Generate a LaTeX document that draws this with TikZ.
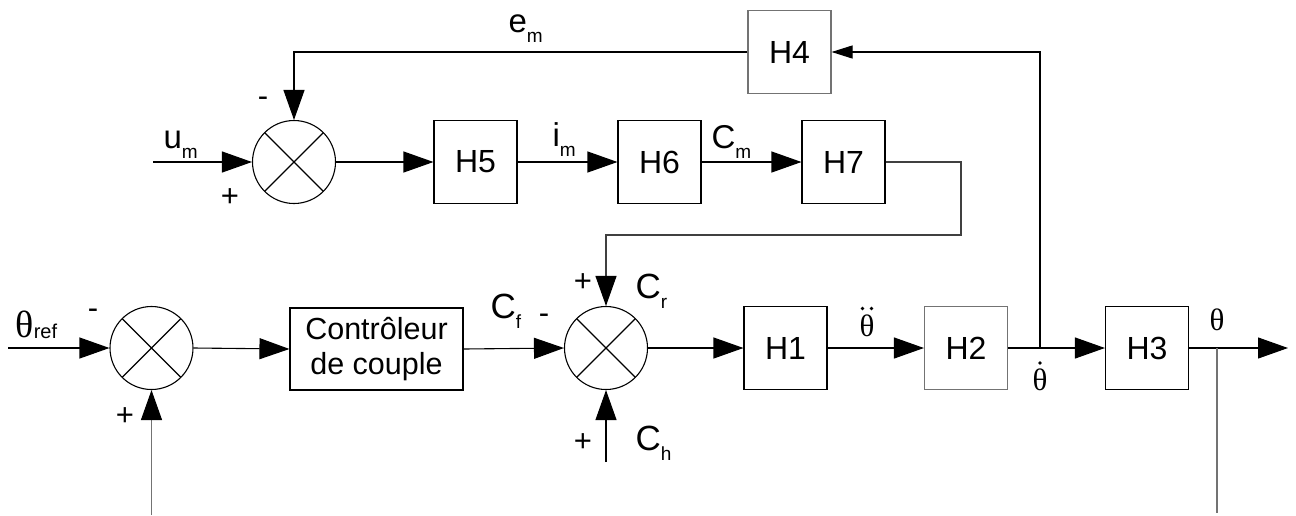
\documentclass[tikz,border=0pt]{standalone}
\usepackage{fontspec}
\setmainfont{Liberation Sans}
\newfontfamily\serifth{Liberation Serif}
\usetikzlibrary{arrows.meta}
\definecolor{lg}{gray}{0.45}
\newcommand\sub[1]{\raisebox{-10pt}{\fontsize{19}{19}\selectfont #1}}
\begin{document}
\begin{tikzpicture}[x=1pt,y=-1pt,line width=1.1pt,
  blk/.style={draw,minimum width=83pt,minimum height=83pt,inner sep=0pt,font=\fontsize{32}{34}\selectfont},
  sumj/.style={draw,circle,minimum size=83pt,inner sep=0pt,
    path picture={\draw[line width=1.1pt] (path picture bounding box.north west) -- (path picture bounding box.south east)
      (path picture bounding box.south west) -- (path picture bounding box.north east);}},
  arr/.style={-{Triangle[length=30pt,width=21pt,color=black]}},
  arrs/.style={-{Triangle[length=21pt,width=13pt]}},
  lbl/.style={inner sep=0pt,font=\fontsize{33}{35}\selectfont},
  sgn/.style={inner sep=0pt,font=\fontsize{31}{33}\selectfont},
  thl/.style={inner sep=0pt,font=\serifth\fontsize{38}{40}\selectfont},
  ths/.style={inner sep=0pt,font=\serifth\fontsize{31}{33}\selectfont},
  accdot/.style={circle,fill,draw=none,inner sep=0pt,minimum size=3.8pt}]
\useasboundingbox (0,0) rectangle (1296,515);

% bottom row
\node[sumj] (s1) at (151.5,348) {};
\node[draw,minimum width=173pt,minimum height=82pt,inner sep=0pt,align=center,
  font=\fontsize{30.5}{35}\selectfont] (ctrl) at (376.5,349) {Contrôleur\\de couple};
\node[sumj] (s2) at (606,348) {};
\node[blk] (H1) at (785.5,348) {H1};
\node[blk,draw=lg] (H2) at (966,348) {H2};
\node[blk] (H3) at (1147,348) {H3};

% top rows
\node[blk,draw=lg] (H4) at (789.5,52) {H4};
\node[sumj] (s3) at (294,162) {};
\node[blk] (H5) at (475.5,162) {H5};
\node[blk] (H6) at (659.5,162) {H6};
\node[blk] (H7) at (843.5,162) {H7};

\coordinate (in1) at (8,348);
\coordinate (fb1) at (151.5,515);
\coordinate (out) at (1288,348);
\coordinate (tb) at (1217,348);
\coordinate (tbe) at (1217,513);
\coordinate (db) at (1040,348);
\coordinate (ch) at (606,462);
\coordinate (c7) at (961,235);
\coordinate (um) at (153,162);

\draw[arr] (in1) -- (s1.west);
\draw[arr] (s1.east) -- (ctrl.west);
\draw[arr] (ctrl.east) -- (s2.west);
\draw[arr] (s2.east) -- (H1.west);
\draw[arr] (H1.east) -- (H2.west);
\draw[arr] (H2.east) -- (H3.west);
\draw[arr] (H3.east) -- (out);
\draw[arr,draw=lg] (fb1) -- (s1.south);
\draw[draw=lg] (tb) -- (tbe);
\draw[arr] (ch) -- (s2.south);
\draw[arr,draw=black!75] (H7.east) -| (c7) -| (s2.north);
\draw[arrs] (db) |- (H4.east);
\draw[arr] (H4.west) -| (s3.north);
\draw[arr] (um) -- (s3.west);
\draw[arr] (s3.east) -- (H5.west);
\draw[arr] (H5.east) -- (H6.west);
\draw[arr] (H6.east) -- (H7.west);

% labels
\node[lbl,anchor=base west] (lum) at (163,148) {u\sub{m}};
\node[lbl,anchor=base west] (lem) at (508,32) {e\sub{m}};
\node[lbl,anchor=base west] (lim) at (552,146) {i\sub{m}};
\node[lbl,anchor=base west] (lcm) at (711,148) {C\sub{m}};
\node[lbl,anchor=base west,font=\fontsize{35}{37}\selectfont] (lcf) at (490,318) {C\sub{f}};
\node[lbl,anchor=base west,font=\fontsize{35}{37}\selectfont] (lcr) at (635,298) {C\sub{r}};
\node[lbl,anchor=base west,font=\fontsize{35}{37}\selectfont] (lch) at (635,450) {C\sub{h}};
\node[thl,anchor=base west] (lth) at (15,337) {θ\raisebox{-1pt}{\fontsize{20}{20}\selectfont\rmfamily ref}};
\node[ths,anchor=base] (ldd) at (867,336) {θ};
\node[ths,anchor=base] (ld) at (1040,390) {θ};
\node[ths,anchor=base] (lt) at (1217,330) {θ};
% accent dots
\node[accdot] (dd1) at (862.5,308.5) {};
\node[accdot] (dd2) at (871.5,308.5) {};
\node[accdot] (d1) at (1040,363) {};

% signs
\node[sgn] (m1) at (93,314) {-};
\node[sgn] (p1) at (125,417) {+};
\node[sgn] (m2) at (544,319) {-};
\node[sgn] (p2) at (583,283) {+};
\node[sgn] (p3) at (583,443) {+};
\node[sgn] (m3) at (263,102) {-};
\node[sgn] (p4) at (230,198) {+};
\end{tikzpicture}
\end{document}
